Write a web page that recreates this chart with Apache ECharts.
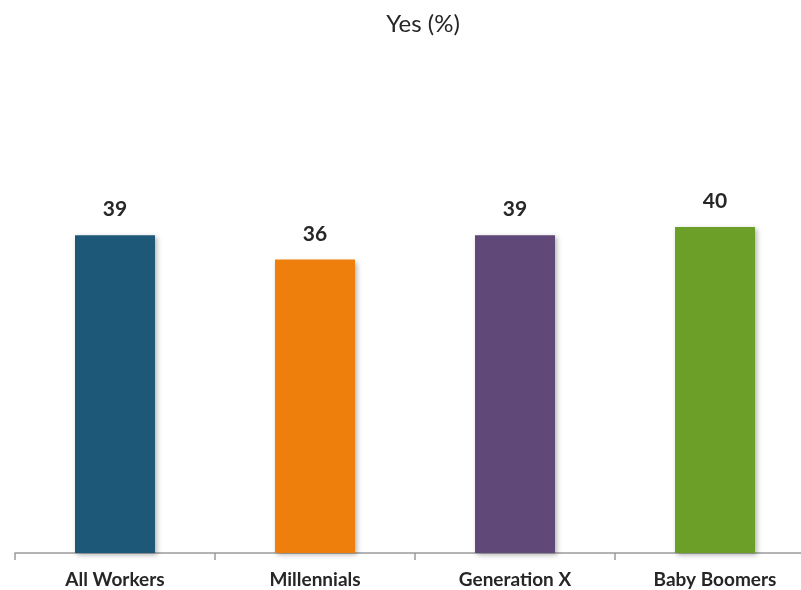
<!DOCTYPE html>
<html>
<head>
<meta charset="utf-8">
<script src="https://cdn.jsdelivr.net/npm/echarts@6/dist/echarts.min.js"></script>
<style>html,body{margin:0;padding:0;background:#fff;}#c{width:801px;height:590px;}</style>
</head>
<body>
<div id="c"></div>
<script>
const categories = ['All Workers', 'Millennials', 'Generation X', 'Baby Boomers'];
const values = [39, 36, 39, 40];
const colors = ['#1e5879', '#ef7f0c', '#604878', '#6b9f28'];

const chart = echarts.init(document.getElementById('c'), null, {renderer: 'canvas'});
chart.setOption({
  animation: false,
  backgroundColor: '#ffffff',
  title: {
    text: 'Yes (%)',
    left: 418, top: 7, textAlign: 'center',
    textStyle: {fontFamily: 'Lato', fontSize: 24, fontWeight: 'normal', color: '#262626'}
  },
  grid: {left: 15, width: 800, top: 64, bottom: 37, containLabel: false, outerBoundsMode: 'none'},
  xAxis: {
    type: 'category',
    data: categories,
    axisLine: {lineStyle: {color: '#9a9a9a', width: 1.5}},
    axisTick: {show: true, length: 7, lineStyle: {color: '#9a9a9a', width: 1.5}},
    axisLabel: {fontFamily: 'Lato', fontSize: 19, fontWeight: 'bold', color: '#262626', margin: 17}
  },
  yAxis: {
    type: 'value', min: 0, max: 60, show: false,
    splitLine: {show: false}
  },
  series: [{
    type: 'bar',
    barWidth: 80,
    data: values.map((v, i) => ({value: v, itemStyle: {color: colors[i]}})),
    itemStyle: {shadowBlur: 5, shadowColor: 'rgba(0,0,0,0.3)', shadowOffsetX: 2, shadowOffsetY: 2},
    label: {
      show: true, position: 'top', distance: 15,
      fontFamily: 'Lato', fontSize: 21, fontWeight: 'bold', color: '#262626'
    }
  }]
});
</script>
</body>
</html>
